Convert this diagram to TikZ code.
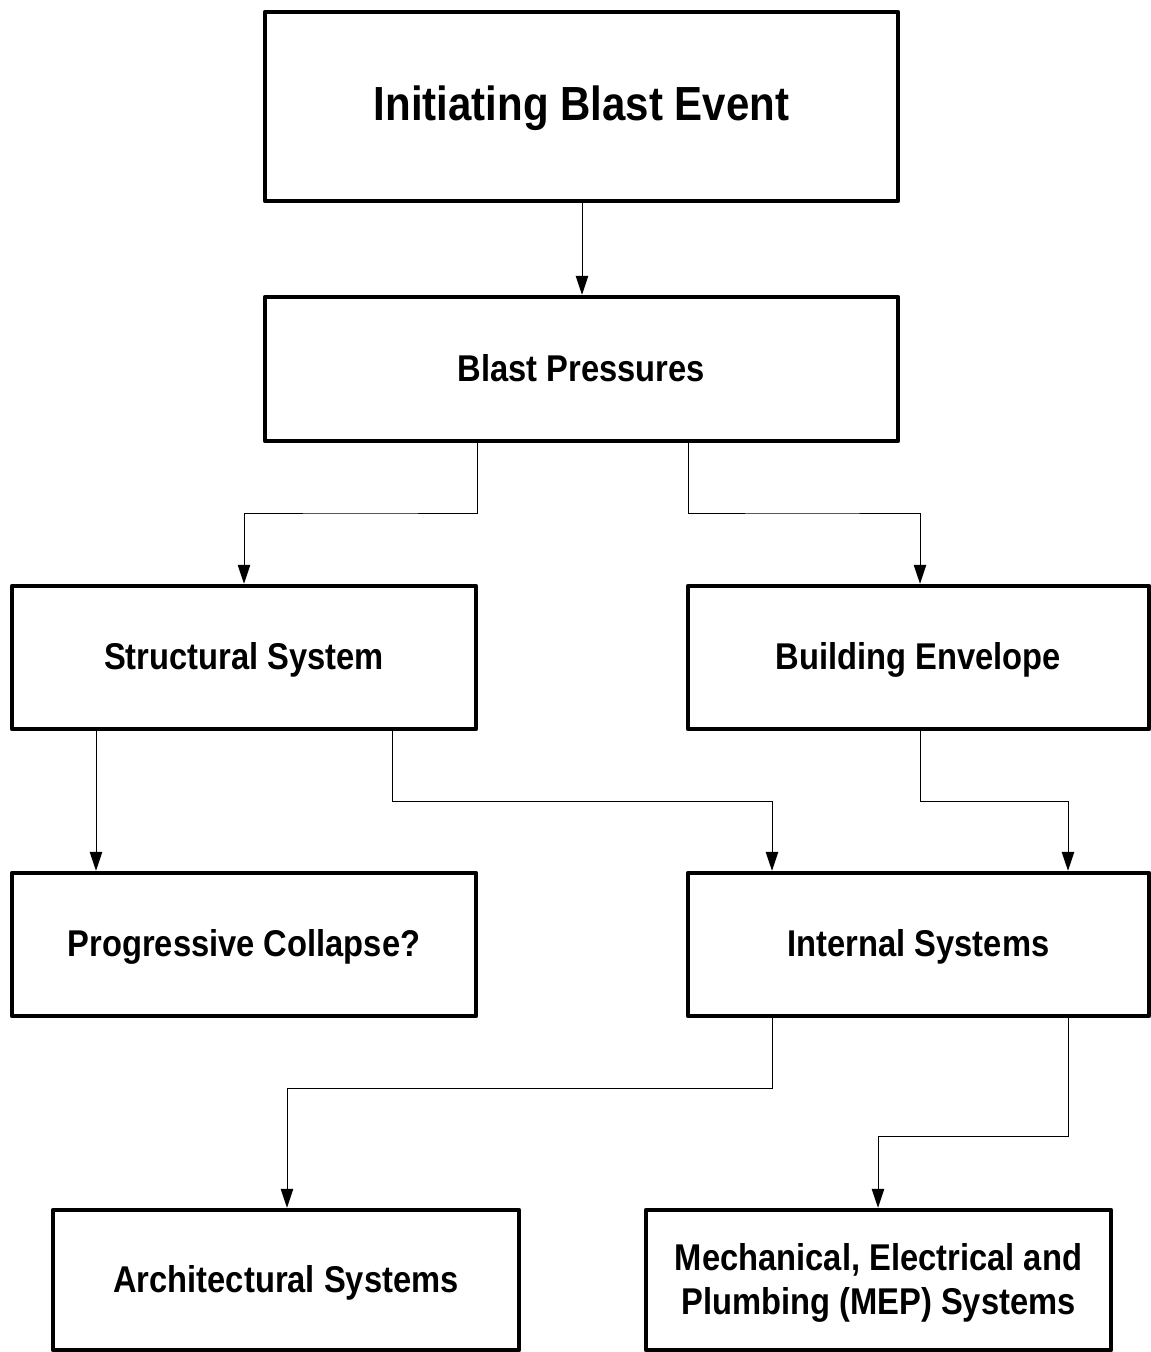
\documentclass[tikz,border=0pt]{standalone}
\usepackage{fontspec}
\setmainfont{Liberation Sans}
\usetikzlibrary{arrows.meta}
\newcommand{\boxtxt}[2]{\raisebox{-3.5pt}[\height][\depth]{\scalebox{1}[1.14]{\fontsize{#1}{38.6}\selectfont\bfseries\begin{tabular}{@{}c@{}}#2\end{tabular}}}}
\begin{document}
\begin{tikzpicture}[x=1pt,y=1pt,
  blk/.style={draw=black, line width=4.5pt, line join=round, rectangle, inner sep=0pt, fill=white},
  conn/.style={draw=black, line width=1pt, -{Triangle[length=19pt,width=12.5pt]}}]
\useasboundingbox (0,0) rectangle (1151,-1352);
\fill[white] (0,0) rectangle (1151,-1352);
% boxes: centre, width, height (centreline of border)
\node[blk, minimum width=633pt, minimum height=189pt] (b1) at (581.5,-106.5) {\boxtxt{42}{Initiating Blast Event}};
\node[blk, minimum width=633pt, minimum height=144pt] (b2) at (581.5,-369) {\boxtxt{32.7}{Blast Pressures}};
\node[blk, minimum width=464pt, minimum height=143pt] (b3) at (244,-657.5) {\boxtxt{32.7}{Structural System}};
\node[blk, minimum width=461pt, minimum height=143pt] (b4) at (918.5,-657.5) {\boxtxt{32.7}{Building Envelope}};
\node[blk, minimum width=464pt, minimum height=143pt] (b5) at (244,-944.5) {\boxtxt{32.7}{Progressive Collapse?}};
\node[blk, minimum width=461pt, minimum height=143pt] (b6) at (918.5,-944.5) {\boxtxt{32.7}{Internal Systems}};
\node[blk, minimum width=466pt, minimum height=140pt] (b7) at (286,-1280) {\boxtxt{32.7}{Architectural Systems}};
\node[blk, minimum width=465pt, minimum height=140pt] (b8) at (878.5,-1280) {\boxtxt{32.7}{Mechanical, Electrical and\\Plumbing (MEP) Systems}};
% connectors
\draw[conn] (b1.south -| 582,0) -- (b2.north -| 582,0);
\draw[conn] (b2.south -| 477,0) |- (360,-513) -| (b3.north -| 244,0);
\draw[conn] (b2.south -| 688,0) |- (800,-513) -| (b4.north -| 920,0);
\draw[conn] (b3.south -| 96,0) -- (b5.north -| 96,0);
\draw[conn] (b3.south -| 392,0) |- (580,-801) -| (b6.north -| 772,0);
\draw[conn] (b4.south -| 920,0) |- (1000,-801) -| (b6.north -| 1068,0);
\draw[conn] (b6.south -| 772,0) |- (500,-1088) -| (b7.north -| 287,0);
\draw[conn] (b6.south -| 1068,0) |- (970,-1136) -| (b8.north -| 878,0);
\end{tikzpicture}
\end{document}
